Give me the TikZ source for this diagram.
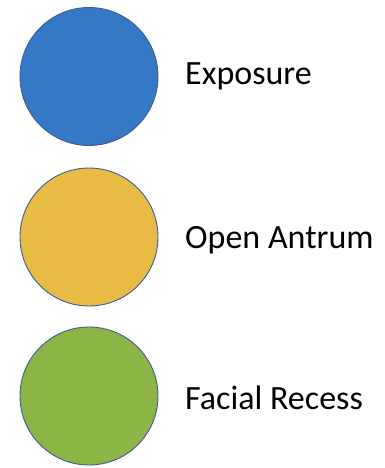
\documentclass[tikz,border=0pt]{standalone}
\usepackage{fontspec}
\setmainfont{Carlito}

\definecolor{expblue}{RGB}{52,120,198}
\definecolor{antgold}{RGB}{232,187,68}
\definecolor{recgreen}{RGB}{140,181,70}
\definecolor{rimblue}{RGB}{62,92,150}

\begin{document}
\begin{tikzpicture}[x=1pt, y=-1pt,
    dot/.style={circle, draw=rimblue, line width=0.9pt, inner sep=0pt, minimum size=138pt},
    tag/.style={anchor=base west, inner sep=0pt, font=\fontsize{34}{40}\selectfont}]
    % Fix the page size
    \useasboundingbox (0,0) rectangle (385,468);
    
    % Circles
    \node[dot, fill=expblue] (exposure) at (89,76.5) {};
    \node[dot, fill=antgold] (antrum) at (89,237) {};
    \node[dot, fill=recgreen] (recess) at (89,396) {};
    
    % Labels
    \node[tag] (exposurelbl) at (185,85) {Exposure};
    \node[tag] (antrumlbl) at (185,248) {Open Antrum};
    \node[tag] (recesslbl) at (185,409) {Facial Recess};
\end{tikzpicture}
\end{document}
